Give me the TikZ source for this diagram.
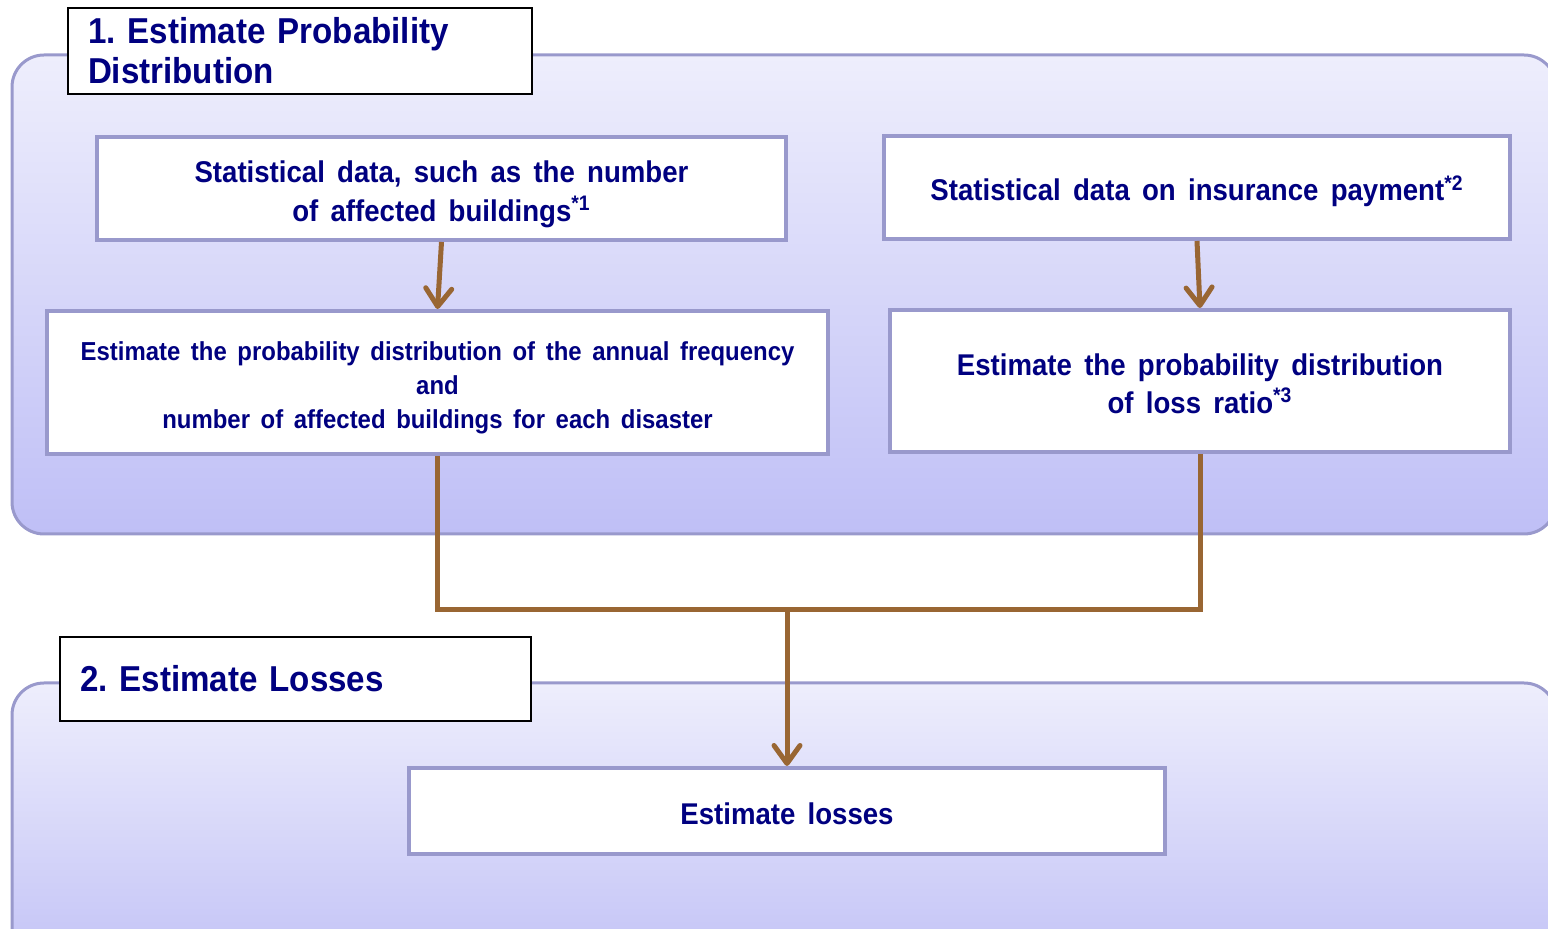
\documentclass[tikz,border=0pt]{standalone}
\usepackage{fontspec}
\setmainfont{Liberation Sans}[FakeStretch=0.92, WordSpace=1.6]
\usetikzlibrary{arrows.meta}
\definecolor{navytext}{HTML}{000080}
\definecolor{panelline}{HTML}{9999CC}
\definecolor{paneltop}{HTML}{EEEEFC}
\definecolor{panelbottom}{HTML}{BFBFF6}
\definecolor{flowbrown}{HTML}{996633}
\frenchspacing
% centred lines, set a little low so they sit mid-box
\newcommand{\blocktext}[1]{%
	\raisebox{-2.8pt}[\height][\depth]{\begin{tabular}{@{}c@{}}#1\end{tabular}}}
\tikzset{
    panel/.style={
           draw=panelline, line width=1.5pt,
           rounded corners=16pt,
           top color=paneltop, bottom color=panelbottom,
           },
    block/.style={
           rectangle,
           draw=panelline, line width=2pt,
           fill=white,
           text=navytext,
           inner sep=0pt,
           },
    heading/.style={
           rectangle,
           draw=black, line width=1pt,
           fill=white,
           text=navytext,
           align=left,
           inner xsep=10pt,
           },
    flow/.style={
           draw=flowbrown, line width=2.5pt,
           },
    arr/.style={
           flow,
           -{Straight Barb[length=9pt, width=13pt, round]},
           },
}

\begin{document}
\begin{tikzpicture}[x=0.5pt, y=-0.5pt]
	\useasboundingbox (0,0) rectangle (1548,929);

	% background panels
	\draw[panel] (12,55) rectangle (1556,534);
	\draw[panel] (12,683) rectangle (1556,990);

	% section headings
	\node[heading, text width=212pt, minimum height=43pt,
		font=\bfseries\fontsize{18}{20}\selectfont] (head1) at (300,51) {
		1. Estimate Probability\\Distribution
	};
	\node[heading, text width=215.5pt, minimum height=42pt,
		font=\bfseries\fontsize{18}{21}\selectfont] (head2) at (295.5,679) {
		2. Estimate Losses
	};

	% step 1 boxes
	\node[block, minimum width=344.5pt, minimum height=51.5pt,
		font=\bfseries\fontsize{15}{19.5}\selectfont] (statA) at (441.5,188.5) {
		\blocktext{Statistical data, such as the number\\
		of affected buildings\textsuperscript{*1}}
	};
	\node[block, minimum width=313pt, minimum height=51.5pt,
		font=\bfseries\fontsize{15}{19.5}\selectfont] (statB) at (1197,187.5) {
		\blocktext{Statistical data on insurance payment\textsuperscript{*2}}
	};
	\node[block, minimum width=390.5pt, minimum height=71.5pt,
		font=\bfseries\fontsize{13}{17}\selectfont] (estA) at (437.5,382.5) {
		\blocktext{Estimate the probability distribution of the annual frequency\\
		and\\
		number of affected buildings for each disaster}
	};
	\node[block, minimum width=310pt, minimum height=71pt,
		font=\bfseries\fontsize{15}{19}\selectfont] (estB) at (1200,381) {
		\blocktext{Estimate the probability distribution\\
		of loss ratio\textsuperscript{*3}}
	};

	% step 2 box
	\node[block, minimum width=378pt, minimum height=43pt,
		font=\bfseries\fontsize{15}{19}\selectfont] (loss) at (787,811) {
		\blocktext{Estimate losses}
	};

	\coordinate (merge) at (787,610);

	\draw[arr] (statA.south) -- (estA.north);
	\draw[arr] (statB.south) -- (estB.north);
	\draw[flow] (estA.south) |- (merge);
	\draw[flow] (estB.south) |- (merge);
	\draw[arr] (merge) -- (loss.north);
\end{tikzpicture}
\end{document}
